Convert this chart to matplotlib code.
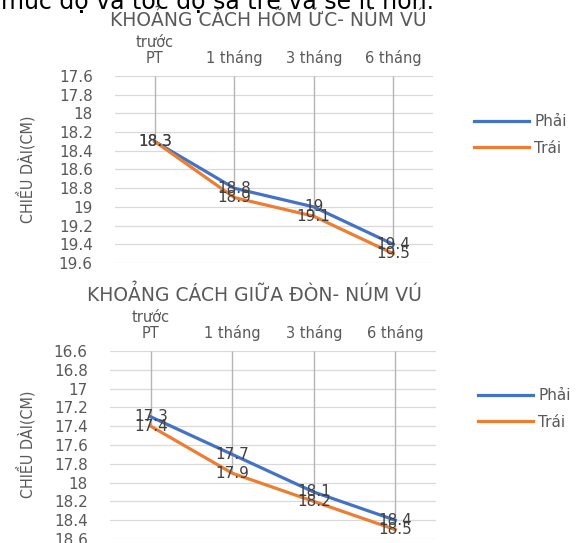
"""Two line charts: distance measurements over time, right vs left"""

import matplotlib

matplotlib.use("Agg")
import matplotlib.pyplot as plt
from matplotlib.font_manager import FontProperties, findfont
from matplotlib.ticker import FuncFormatter

# header text cut off at the top of the screenshot
HEADER = "mức độ và tốc độ sa trễ và sẽ ít hơn."

CATEGORIES = ["trước\nPT", "1 tháng", "3 tháng", "6 tháng"]
SERIES_NAMES = ["Phải", "Trái"]

TITLE_TOP = "KHOẢNG CÁCH HÕM ỨC- NÚM VÚ"
PHAI_TOP = [18.3, 18.8, 19.0, 19.4]
TRAI_TOP = [18.3, 18.9, 19.1, 19.5]
YTICKS_TOP = [17.6, 17.8, 18.0, 18.2, 18.4, 18.6, 18.8, 19.0, 19.2, 19.4, 19.6]

TITLE_BOT = "KHOẢNG CÁCH GIỮA ĐÒN- NÚM VÚ"
PHAI_BOT = [17.3, 17.7, 18.1, 18.4]
TRAI_BOT = [17.4, 17.9, 18.2, 18.5]
YTICKS_BOT = [16.6, 16.8, 17.0, 17.2, 17.4, 17.6, 17.8, 18.0, 18.2, 18.4, 18.6]

YLABEL = "CHIỀU DÀI(CM)"

BLUE = "#4472C4"
ORANGE = "#ED7D31"
GREY_TEXT = "#595959"
W, H = 579, 543

# narrow face for the axis title if one is around
_cond = FontProperties(family="DejaVu Sans", stretch="condensed")
if "Condensed" in findfont(_cond):
    YLABEL_FONT = dict(family="DejaVu Sans", stretch="condensed", fontsize=11.5)
else:
    YLABEL_FONT = dict(family="DejaVu Sans", fontsize=10)


def fx(px):
    return px / W


def fy(px):
    return 1 - px / H


def draw_chart(fig, rect, title, title_xy, phai, trai, yticks, ylabel_y, legend_xy):
    ax = fig.add_axes(rect)
    x = list(range(len(CATEGORIES)))

    ax.set_xlim(-0.5, len(CATEGORIES) - 0.5)
    ax.set_ylim(yticks[-1], yticks[0])
    ax.set_yticks(yticks)
    ax.yaxis.set_major_formatter(FuncFormatter(lambda v, _: f"{v:g}"))
    ax.grid(axis="y", color="#D9D9D9", linewidth=0.9)
    ax.set_axisbelow(True)
    for s in ax.spines.values():
        s.set_visible(False)

    ax.xaxis.tick_top()
    ax.set_xticks(x)
    ax.set_xticklabels(CATEGORIES, linespacing=1.1)
    ax.tick_params(axis="x", length=0, pad=7, labelsize=10.5, labelcolor=GREY_TEXT)
    ax.tick_params(axis="y", length=0, pad=16, labelsize=11, labelcolor=GREY_TEXT)

    # drop lines from the category axis down to the points
    low = [max(a, b) for a, b in zip(phai, trai)]
    ax.vlines(x, yticks[0], low, color="#B5B5B5", linewidth=1, zorder=1)

    (l1,) = ax.plot(x, phai, color=BLUE, linewidth=2.3, zorder=3,
                    solid_joinstyle="round")
    (l2,) = ax.plot(x, trai, color=ORANGE, linewidth=2.3, zorder=3,
                    solid_joinstyle="round")

    for xi, a, b in zip(x, phai, trai):
        ax.text(xi, a, f"{a:g}", ha="center", va="center", fontsize=11,
                color="#404040", zorder=4)
        ax.text(xi, b, f"{b:g}", ha="center", va="center", fontsize=11,
                color="#404040", zorder=4)

    fig.text(title_xy[0], title_xy[1], title, ha="center", va="center",
             fontsize=13.5, color=GREY_TEXT)
    fig.text(fx(26), ylabel_y, YLABEL, rotation=90, ha="center", va="center",
             color=GREY_TEXT, **YLABEL_FONT)

    ax.legend([l1, l2], SERIES_NAMES, loc="center left",
              bbox_to_anchor=legend_xy, bbox_transform=fig.transFigure,
              frameon=False, fontsize=11, labelcolor=GREY_TEXT,
              handlelength=3.6, handletextpad=0.35, labelspacing=0.75,
              borderpad=0, borderaxespad=0)
    return ax


def main():
    fig = plt.figure(figsize=(W / 100, H / 100), dpi=100)

    fig.text(fx(1), fy(9), HEADER, ha="left", va="baseline", fontsize=17,
             color="black")

    draw_chart(fig, [fx(115), fy(263), fx(318), 187 / H], TITLE_TOP,
               (fx(268), fy(20)), PHAI_TOP, TRAI_TOP, YTICKS_TOP,
               fy(169.5), (fx(474), fy(135)))
    draw_chart(fig, [fx(110), fy(539), fx(326), 188 / H], TITLE_BOT,
               (fx(254), fy(295)), PHAI_BOT, TRAI_BOT, YTICKS_BOT,
               fy(444), (fx(478), fy(409)))

    fig.savefig("out.png", dpi=100)


if __name__ == "__main__":
    main()
